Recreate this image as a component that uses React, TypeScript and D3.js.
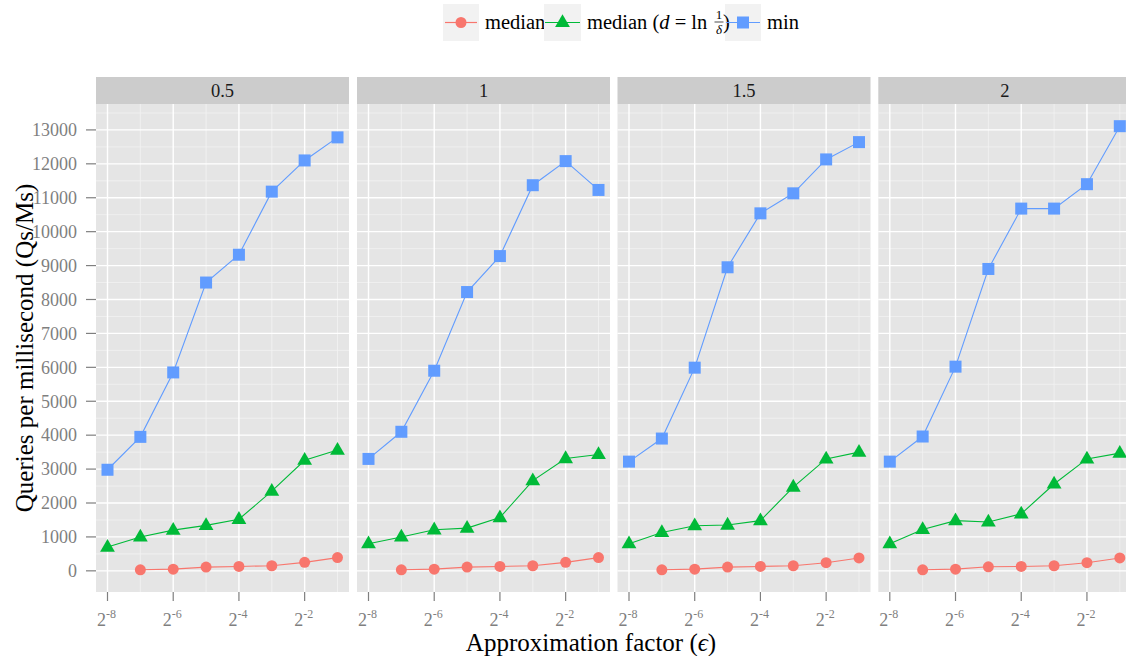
import React from "react";
import * as d3 from "d3";

const panelLabels = ["0.5", "1", "1.5", "2"];
const exponents = [-8, -7, -6, -5, -4, -3, -2, -1];
const medianExponents = [-7, -6, -5, -4, -3, -2, -1];
const xTickExponents = [-8, -6, -4, -2];
const xMinorExponents = [-7, -5, -3, -1];
const yTicks = [0, 1000, 2000, 3000, 4000, 5000, 6000, 7000, 8000, 9000, 10000, 11000, 12000, 13000];

// min series per panel
const min05 = [2980, 3950, 5850, 8500, 9320, 11180, 12100, 12780];
const min1 = [3300, 4100, 5900, 8220, 9280, 11370, 12080, 11230];
const min15 = [3220, 3900, 5990, 8950, 10540, 11130, 12130, 12640];
const min2 = [3220, 3960, 6020, 8900, 10680, 10680, 11400, 13110];

// median (d = ln 1/delta) series per panel
const medLn05 = [700, 1000, 1200, 1340, 1520, 2350, 3260, 3560];
const medLn1 = [800, 1000, 1210, 1260, 1570, 2660, 3310, 3430];
const medLn15 = [800, 1130, 1330, 1350, 1480, 2470, 3300, 3500];
const medLn2 = [800, 1220, 1480, 1440, 1680, 2560, 3300, 3470];

// median series per panel (starts at 2^-7)
const med05 = [30, 50, 110, 130, 150, 250, 390];
const med1 = [30, 50, 110, 130, 150, 250, 390];
const med15 = [30, 50, 110, 130, 150, 240, 380];
const med2 = [30, 50, 120, 130, 150, 240, 380];

const minSeries = [min05, min1, min15, min2];
const medLnSeries = [medLn05, medLn1, medLn15, medLn2];
const medSeries = [med05, med1, med15, med2];

const RED = "#F8766D";
const GREEN = "#00BA38";
const BLUE = "#619CFF";

const W = 1126;
const H = 656;
const panelTop = 104;
const panelBottom = 592;
const stripTop = 77;
const panelW = 253;
const panelX0 = [96, 357, 617.5, 878.3];
const FONT = "'Liberation Serif', 'DejaVu Serif', serif";
const TICK_GRAY = "#7f7f7f";

export default function App() {
  const allVals = [...minSeries.flat(), ...medLnSeries.flat(), ...medSeries.flat()];
  const lo = d3.min(allVals) as number;
  const hi = d3.max(allVals) as number;
  const pad = (hi - lo) * 0.05;
  const y = d3.scaleLinear().domain([lo - pad, hi + pad]).range([panelBottom, panelTop]);
  const xLo = -8, xHi = -1;
  const xPad = (xHi - xLo) * 0.05;
  const yMinor = d3.range(500, 14000, 1000);

  const tri = (cx: number, cy: number) => {
    const s = 7.4;
    return `M${cx},${cy - 8.2}L${cx + s},${cy + 4.6}L${cx - s},${cy + 4.6}Z`;
  };

  return (
    <svg width={W} height={H} style={{ position: "absolute", left: 0, top: 0 }} fontFamily={FONT}>
      <rect x={0} y={0} width={W} height={H} fill="#ffffff" />
      {/* Legend */}
      <g>
        <rect x={443} y={4} width={36} height={37} fill="#f2f2f2" />
        <line x1={445} x2={477} y1={22.5} y2={22.5} stroke={RED} strokeWidth={1.2} />
        <circle cx={461} cy={22.5} r={5.5} fill={RED} />
        <text x={485} y={29} fontSize={20.5} fill="#000">median</text>

        <rect x={544} y={4} width={37} height={37} fill="#f2f2f2" />
        <line x1={545} x2={580} y1={22.5} y2={22.5} stroke={GREEN} strokeWidth={1.2} />
        <path d={tri(562.5, 22.5)} fill={GREEN} />
        <text x={587} y={29} fontSize={20.5} fill="#000">
          median (<tspan fontStyle="italic">d</tspan> = ln
        </text>
        <text x={719} y={19} fontSize={13} textAnchor="middle" fill="#000">1</text>
        <line x1={714.5} x2={723.5} y1={22} y2={22} stroke="#000" strokeWidth={0.7} />
        <text x={719} y={34} fontSize={13} textAnchor="middle" fontStyle="italic" fill="#000">δ</text>
        <rect x={725} y={4} width={36} height={37} fill="#f2f2f2" />
        <text x={723} y={29} fontSize={20.5} fill="#000">)</text>
        <line x1={726} x2={760} y1={22.5} y2={22.5} stroke={BLUE} strokeWidth={1.2} />
        <rect x={737} y={16.5} width={12} height={12} fill={BLUE} />
        <text x={767} y={29} fontSize={20.5} fill="#000">min</text>
      </g>

      {panelLabels.map((lab, i) => {
        const x0 = panelX0[i];
        const x = d3.scaleLinear().domain([xLo - xPad, xHi + xPad]).range([x0, x0 + panelW]);
        const line = d3.line<[number, number]>().x((d) => x(d[0])).y((d) => y(d[1]));
        const minPts = exponents.map((e, k) => [e, minSeries[i][k]] as [number, number]);
        const lnPts = exponents.map((e, k) => [e, medLnSeries[i][k]] as [number, number]);
        const medPts = medianExponents.map((e, k) => [e, medSeries[i][k]] as [number, number]);
        return (
          <g key={lab}>
            {/* strip */}
            <rect x={x0} y={stripTop} width={panelW} height={panelTop - stripTop} fill="#cccccc" />
            <text x={x0 + panelW / 2} y={stripTop + 19.5} fontSize={18.5} textAnchor="middle" fill="#1a1a1a">
              {lab}
            </text>
            {/* panel */}
            <rect x={x0} y={panelTop} width={panelW} height={panelBottom - panelTop} fill="#e5e5e5" />
            {yMinor.map((v) => (
              <line key={"ym" + v} x1={x0} x2={x0 + panelW} y1={y(v)} y2={y(v)} stroke="#f2f2f2" strokeWidth={0.8} />
            ))}
            {xMinorExponents.map((e) => (
              <line key={"xm" + e} x1={x(e)} x2={x(e)} y1={panelTop} y2={panelBottom} stroke="#f2f2f2" strokeWidth={0.8} />
            ))}
            {yTicks.map((v) => (
              <line key={"yM" + v} x1={x0} x2={x0 + panelW} y1={y(v)} y2={y(v)} stroke="#ffffff" strokeWidth={1.4} />
            ))}
            {xTickExponents.map((e) => (
              <line key={"xM" + e} x1={x(e)} x2={x(e)} y1={panelTop} y2={panelBottom} stroke="#ffffff" strokeWidth={1.4} />
            ))}
            {/* series */}
            <path d={line(medPts) || ""} fill="none" stroke={RED} strokeWidth={1.1} />
            <path d={line(lnPts) || ""} fill="none" stroke={GREEN} strokeWidth={1.1} />
            <path d={line(minPts) || ""} fill="none" stroke={BLUE} strokeWidth={1.1} />
            {medPts.map((p, k) => (
              <circle key={"c" + k} cx={x(p[0])} cy={y(p[1])} r={5.5} fill={RED} />
            ))}
            {lnPts.map((p, k) => (
              <path key={"t" + k} d={tri(x(p[0]), y(p[1]))} fill={GREEN} />
            ))}
            {minPts.map((p, k) => (
              <rect key={"s" + k} x={x(p[0]) - 6} y={y(p[1]) - 6} width={12} height={12} fill={BLUE} />
            ))}
            {/* x axis ticks */}
            {xTickExponents.map((e) => (
              <g key={"xt" + e}>
                <line x1={x(e)} x2={x(e)} y1={panelBottom} y2={panelBottom + 9} stroke={TICK_GRAY} strokeWidth={1.2} />
                <text x={x(e) - 1} y={626} fontSize={18} textAnchor="middle" fill={TICK_GRAY}>
                  2<tspan fontSize={12} dy={-8}>{String(e)}</tspan>
                </text>
              </g>
            ))}
          </g>
        );
      })}

      {/* y axis */}
      {yTicks.map((v) => (
        <g key={"yt" + v}>
          <line x1={86} x2={96} y1={y(v)} y2={y(v)} stroke={TICK_GRAY} strokeWidth={1.2} />
          <text x={77} y={y(v)} dy="0.35em" fontSize={18} textAnchor="end" fill={TICK_GRAY}>
            {v}
          </text>
        </g>
      ))}

      {/* axis titles */}
      <text x={591} y={651} fontSize={25} textAnchor="middle" fill="#000">
        Approximation factor (<tspan fontStyle="italic">ϵ</tspan>)
      </text>
      <text
        transform={`translate(33,${(panelTop + panelBottom) / 2}) rotate(-90)`}
        fontSize={25}
        textAnchor="middle"
        fill="#000"
      >
        Queries per millisecond (Qs/Ms)
      </text>
    </svg>
  );
}
